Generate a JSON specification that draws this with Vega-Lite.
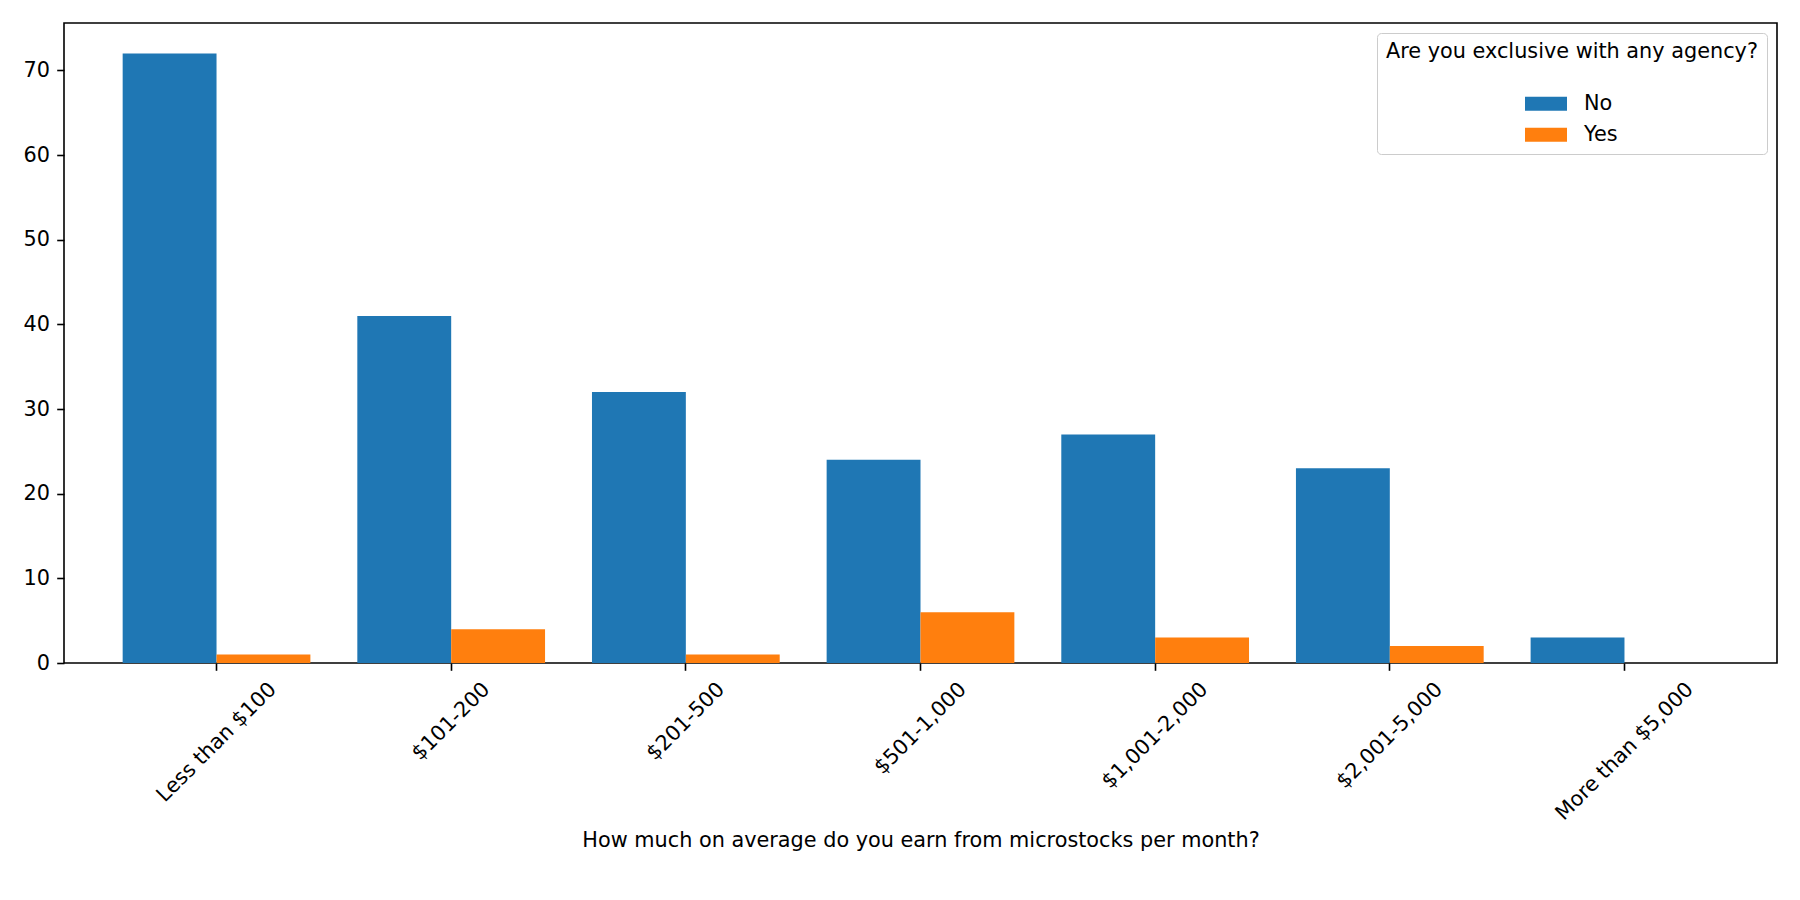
{
  "$schema": "https://vega.github.io/schema/vega-lite/v6.json",
  "width": 1713,
  "height": 640,
  "autosize": {"type": "none"},
  "padding": {"left": 64, "top": 23, "right": 23, "bottom": 237},
  "background": "white",
  "config": {
    "font": "DejaVu Sans",
    "view": {"stroke": "#000000", "strokeWidth": 1.6},
    "axis": {"grid": false, "domain": false, "tickColor": "#000000", "tickWidth": 1.6, "tickSize": 7.3,
             "labelFont": "DejaVu Sans", "labelFontSize": 20.8, "labelColor": "#000000",
             "titleFont": "DejaVu Sans", "titleFontSize": 20.8, "titleFontWeight": "normal", "titleColor": "#000000"}
  },
  "data": {"values": [
    {"bucket": "Less than $100", "exclusive": "No", "count": 72},
    {"bucket": "Less than $100", "exclusive": "Yes", "count": 1},
    {"bucket": "$101-200", "exclusive": "No", "count": 41},
    {"bucket": "$101-200", "exclusive": "Yes", "count": 4},
    {"bucket": "$201-500", "exclusive": "No", "count": 32},
    {"bucket": "$201-500", "exclusive": "Yes", "count": 1},
    {"bucket": "$501-1,000", "exclusive": "No", "count": 24},
    {"bucket": "$501-1,000", "exclusive": "Yes", "count": 6},
    {"bucket": "$1,001-2,000", "exclusive": "No", "count": 27},
    {"bucket": "$1,001-2,000", "exclusive": "Yes", "count": 3},
    {"bucket": "$2,001-5,000", "exclusive": "No", "count": 23},
    {"bucket": "$2,001-5,000", "exclusive": "Yes", "count": 2},
    {"bucket": "More than $5,000", "exclusive": "No", "count": 3},
    {"bucket": "More than $5,000", "exclusive": "Yes", "count": 0}
  ]},
  "mark": {"type": "bar"},
  "encoding": {
    "x": {
      "field": "bucket", "type": "nominal",
      "sort": ["Less than $100", "$101-200", "$201-500", "$501-1,000", "$1,001-2,000", "$2,001-5,000", "More than $5,000"],
      "scale": {"paddingInner": 0.2, "paddingOuter": 0.25},
      "axis": {
        "title": "How much on average do you earn from microstocks per month?",
        "titleBaseline": "middle", "titleY": 177,
        "labelAngle": -45, "labelAlign": "right", "labelBaseline": "middle",
        "labelPadding": 15.5, "labelOverlap": false, "labelBound": false, "labelFlush": false, "labelLimit": 0,
        "labelOffset": {
          "condition": [
            {"test": "datum.value === 'Less than $100'", "value": 56.5},
            {"test": "datum.value === '$101-200' || datum.value === '$201-500'", "value": 35.5},
            {"test": "datum.value === '$501-1,000'", "value": 42.5},
            {"test": "datum.value === 'More than $5,000'", "value": 65.7}
          ],
          "value": 49.5
        }
      }
    },
    "xOffset": {"field": "exclusive", "type": "nominal", "scale": {"paddingInner": 0, "paddingOuter": 0}},
    "y": {
      "field": "count", "type": "quantitative",
      "scale": {"domain": [0, 75.6], "nice": false, "zero": true},
      "axis": {"title": null, "values": [0, 10, 20, 30, 40, 50, 60, 70], "labelPadding": 7.3}
    },
    "color": {
      "field": "exclusive", "type": "nominal",
      "scale": {"domain": ["No", "Yes"], "range": ["#1f77b4", "#ff7f0e"]},
      "legend": {
        "title": "Are you exclusive with any agency?",
        "orient": "top-right", "offset": 10,
        "titleFont": "DejaVu Sans", "titleFontSize": 20.8, "titleFontWeight": "normal", "titleColor": "#000000",
        "titlePadding": 20, "titleLimit": 1000,
        "labelFont": "DejaVu Sans", "labelFontSize": 20.8, "labelColor": "#000000",
        "symbolType": "M-1,-0.333L1,-0.333L1,0.333L-1,0.333Z",
        "symbolSize": 1764, "symbolStrokeWidth": 0, "symbolOpacity": 1,
        "symbolOffset": 139, "labelOffset": 17, "rowPadding": 0,
        "padding": 9, "fillColor": "rgba(255,255,255,0.8)", "strokeColor": "#cccccc", "cornerRadius": 4
      }
    }
  }
}
